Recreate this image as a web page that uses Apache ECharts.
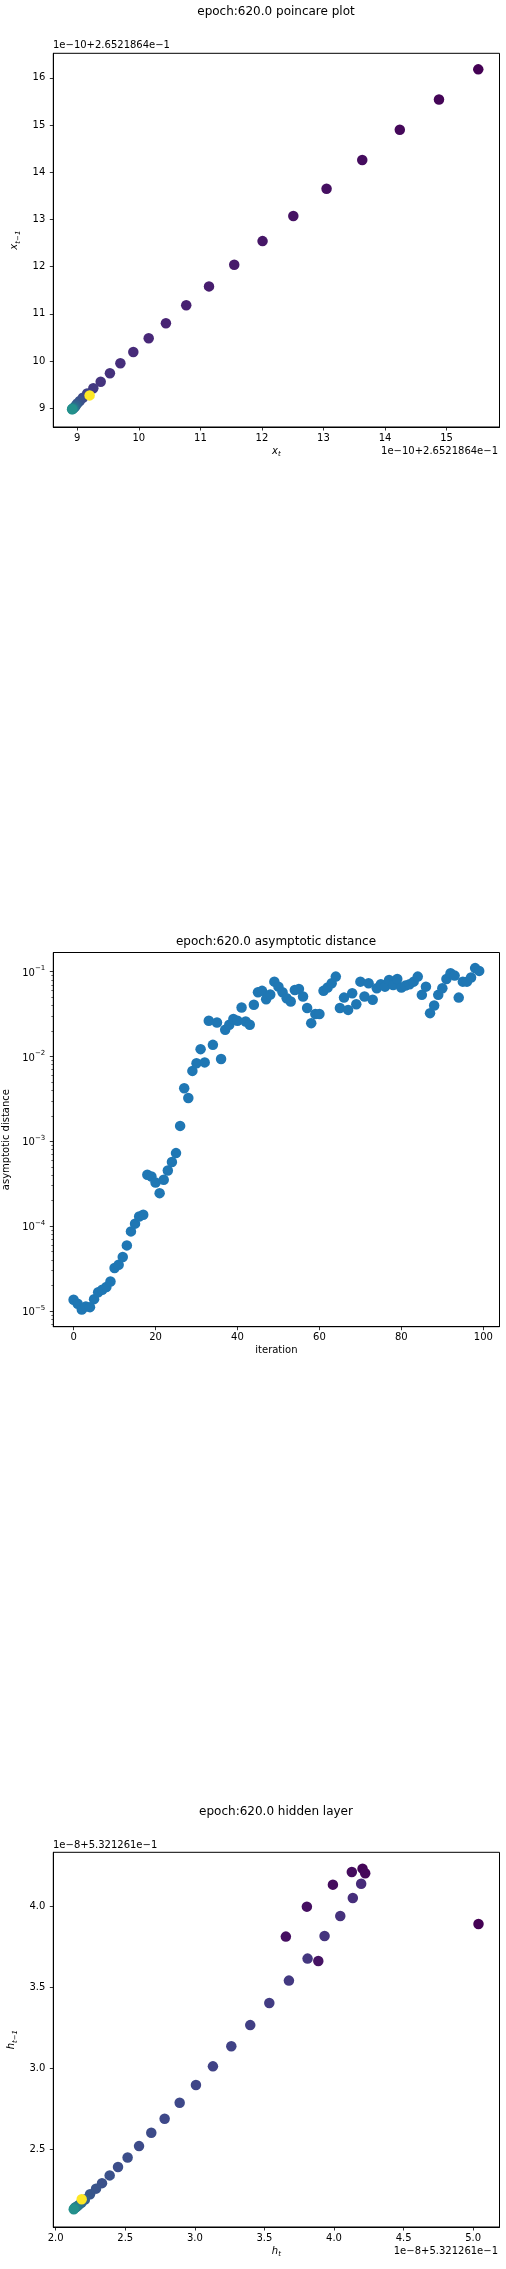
<!DOCTYPE html>
<html>
<head>
<meta charset="utf-8">
<script src="https://cdn.jsdelivr.net/npm/echarts@6/dist/echarts.min.js"></script>
<style>
  html, body { margin: 0; padding: 0; background: #fff; }
  #main { width: 506px; height: 2269px; }
</style>
</head>
<body>
<div id="main"></div>
<script>
// poincare plot, x_t / x_{t-1} in units of 1e-10 above 2.6521864e-1
var poincareX = [15.515, 14.877, 14.24, 13.63, 13.05, 12.51, 12.01, 11.55, 11.14, 10.77,
  10.44, 10.16, 9.91, 9.70, 9.53, 9.38, 9.26, 9.16, 9.09, 9.04, 9.00, 8.98, 8.96, 8.945,
  8.935, 8.925, 8.92, 8.915, 9.20];
var poincareY = [16.18, 15.54, 14.90, 14.26, 13.65, 13.07, 12.54, 12.04, 11.58, 11.18,
  10.80, 10.48, 10.19, 9.95, 9.74, 9.56, 9.42, 9.31, 9.22, 9.15, 9.10, 9.06, 9.03, 9.01,
  8.995, 8.985, 8.98, 8.975, 9.27];
// colour position on viridis (0 = dark purple, 1 = yellow)
var poincareShade = [0, 0.01, 0.02, 0.03, 0.04, 0.05, 0.06, 0.07, 0.08, 0.09,
  0.10, 0.11, 0.12, 0.13, 0.14, 0.15, 0.17, 0.2, 0.22, 0.25, 0.27, 0.3, 0.33, 0.36,
  0.4, 0.43, 0.46, 0.5, 1];
var poincareXTicks = [9, 10, 11, 12, 13, 14, 15];
var poincareYTicks = [9, 10, 11, 12, 13, 14, 15, 16];

// asymptotic distance per iteration (0..99)
var distance = [1.36e-5, 1.22e-5, 1.04e-5, 1.13e-5, 1.11e-5, 1.38e-5, 1.66e-5, 1.78e-5, 1.92e-5, 2.23e-5,
  3.21e-5, 3.51e-5, 4.33e-5, 5.93e-5, 8.67e-5, 1.07e-4, 1.30e-4, 1.36e-4, 4.03e-4, 3.85e-4,
  3.27e-4, 2.45e-4, 3.52e-4, 4.53e-4, 5.69e-4, 7.26e-4, 1.52e-3, 4.23e-3, 3.24e-3, 6.76e-3,
  8.32e-3, 1.22e-2, 8.51e-3, 2.63e-2, 1.37e-2, 2.51e-2, 9.33e-3, 2.06e-2, 2.36e-2, 2.77e-2,
  2.63e-2, 3.77e-2, 2.58e-2, 2.36e-2, 4.07e-2, 5.71e-2, 5.93e-2, 4.73e-2, 5.37e-2, 7.62e-2,
  6.65e-2, 5.71e-2, 4.86e-2, 4.44e-2, 6.08e-2, 6.25e-2, 5.08e-2, 3.72e-2, 2.47e-2, 3.16e-2,
  3.16e-2, 5.93e-2, 6.49e-2, 7.29e-2, 8.73e-2, 3.72e-2, 4.94e-2, 3.54e-2, 5.56e-2, 4.13e-2,
  7.62e-2, 5.08e-2, 7.29e-2, 4.65e-2, 6.37e-2, 7.10e-2, 6.65e-2, 7.98e-2, 6.97e-2, 8.20e-2,
  6.49e-2, 6.84e-2, 7.10e-2, 7.62e-2, 8.73e-2, 5.32e-2, 6.65e-2, 3.24e-2, 3.98e-2, 5.32e-2,
  6.37e-2, 8.20e-2, 9.57e-2, 8.97e-2, 4.94e-2, 7.62e-2, 7.62e-2, 8.51e-2, 1.10e-1, 1.02e-1];
var iterationTicks = [0, 20, 40, 60, 80, 100];
var distanceTicks = [1e-5, 1e-4, 1e-3, 1e-2, 1e-1];
var minorMultipliers = [2, 3, 4, 5, 6, 7, 8, 9];
var minorDecades = [1e-6, 1e-5, 1e-4, 1e-3, 1e-2];

// hidden layer, h_t / h_{t-1} in units of 1e-8 above 5.321261e-1
var hiddenX = [5.038, 4.205, 4.224, 4.128, 3.992, 3.805, 3.654, 3.887,
  4.195, 4.135, 4.045, 3.932, 3.810, 3.676, 3.535, 3.398, 3.262, 3.130, 3.008, 2.891,
  2.783, 2.687, 2.599, 2.517, 2.448, 2.388, 2.333, 2.290, 2.247,
  2.21, 2.185, 2.165, 2.15, 2.14, 2.135, 2.13, 2.187];
var hiddenY = [3.893, 4.235, 4.206, 4.214, 4.136, 4.000, 3.815, 3.664,
  4.142, 4.054, 3.942, 3.819, 3.679, 3.543, 3.405, 3.268, 3.137, 3.013, 2.898, 2.788,
  2.689, 2.603, 2.520, 2.450, 2.391, 2.339, 2.291, 2.257, 2.222,
  2.19, 2.17, 2.155, 2.145, 2.14, 2.135, 2.13, 2.191];
var hiddenShade = [0, 0.01, 0.02, 0.03, 0.03, 0.04, 0.04, 0.05,
  0.12, 0.13, 0.14, 0.15, 0.16, 0.17, 0.18, 0.19, 0.2, 0.2, 0.21, 0.22,
  0.22, 0.23, 0.23, 0.24, 0.24, 0.25, 0.25, 0.26, 0.27,
  0.3, 0.33, 0.37, 0.4, 0.43, 0.46, 0.5, 1];
var hiddenXTicks = [2.0, 2.5, 3.0, 3.5, 4.0, 4.5, 5.0];
var hiddenYTicks = [2.5, 3.0, 3.5, 4.0];

var viridis = ['#440154', '#482878', '#3e4989', '#31688e', '#26828e',
  '#1f9e89', '#35b779', '#6ece58', '#b5de2b', '#fde725'];

var FONT = 'DejaVu Sans';
var BLACK = '#000';

function zip3(a, b, c) {
  return a.map(function (v, i) { return [v, b[i], c[i]]; });
}

var minorTicks = [];
minorDecades.forEach(function (d) {
  minorMultipliers.forEach(function (m) { minorTicks.push(m * d); });
});

// math-style names: italic letter with subscript
var nameRich = {
  i: { fontFamily: FONT, fontStyle: 'italic', fontSize: 10, lineHeight: 12, verticalAlign: 'top', color: BLACK },
  s: { fontFamily: FONT, fontStyle: 'italic', fontSize: 7, lineHeight: 6, verticalAlign: 'bottom', color: BLACK }
};
var powRich = {
  b: { fontFamily: FONT, fontSize: 10, lineHeight: 13, verticalAlign: 'bottom', color: BLACK },
  p: { fontFamily: FONT, fontSize: 7, lineHeight: 6, verticalAlign: 'top', color: BLACK }
};

function valueAxis(grid, min, max, ticks, fmt) {
  return {
    gridIndex: grid,
    type: 'value',
    min: min,
    max: max,
    axisLine: { show: true, onZero: false, lineStyle: { color: BLACK, width: 1 } },
    axisTick: { show: true, customValues: ticks, length: 3.5, lineStyle: { color: BLACK, width: 0.8 } },
    axisLabel: {
      customValues: ticks, margin: 6, fontFamily: FONT, fontSize: 10, color: BLACK,
      formatter: fmt || function (v) { return String(v); }
    },
    splitLine: { show: false }
  };
}

var x0 = valueAxis(0, 8.61, 15.86, poincareXTicks);
x0.name = '{i|x}{s|t}';
x0.nameLocation = 'middle';
x0.nameGap = 19;
x0.nameTextStyle = { rich: nameRich };

var y0 = valueAxis(0, 8.60, 16.52, poincareYTicks);
y0.axisLabel.margin = 8;
y0.name = '{i|x}{s|t−1}';
y0.nameLocation = 'middle';
y0.nameRotate = 90;
y0.nameGap = 26;
y0.nameTextStyle = { rich: nameRich };

var x1 = valueAxis(1, -4.95, 103.95, iterationTicks);
x1.name = 'iteration';
x1.nameLocation = 'middle';
x1.nameGap = 19;
x1.nameTextStyle = { fontFamily: FONT, fontSize: 10, color: BLACK };

var y1 = {
  gridIndex: 1,
  type: 'log',
  logBase: 10,
  min: 6.53e-6,
  max: 0.168,
  axisLine: { show: true, onZero: false, lineStyle: { color: BLACK, width: 1 } },
  axisTick: { show: true, customValues: distanceTicks, length: 3.5, lineStyle: { color: BLACK, width: 0.8 } },
  axisLabel: {
    customValues: distanceTicks, margin: 8, rich: powRich,
    formatter: function (v) {
      var k = Math.round(Math.log10(v));
      return '{b|10}{p|−' + (-k) + '}';
    }
  },
  splitLine: { show: false },
  name: 'asymptotic distance',
  nameLocation: 'middle',
  nameRotate: 90,
  nameGap: 36,
  nameTextStyle: { fontFamily: FONT, fontSize: 10, color: BLACK }
};
// minor log ticks
var y1minor = {
  gridIndex: 1,
  type: 'log',
  logBase: 10,
  position: 'left',
  min: 6.53e-6,
  max: 0.168,
  axisLine: { show: false, onZero: false },
  axisTick: { show: true, customValues: minorTicks, length: 2, lineStyle: { color: BLACK, width: 0.6 } },
  axisLabel: { show: false },
  splitLine: { show: false }
};

var fmt1 = function (v) { return v.toFixed(1); };
var x2 = valueAxis(2, 1.983, 5.189, hiddenXTicks, fmt1);
x2.name = '{i|h}{s|t}';
x2.nameLocation = 'middle';
x2.nameGap = 19;
x2.nameTextStyle = { rich: nameRich };

var y2 = valueAxis(2, 2.02, 4.336, hiddenYTicks, fmt1);
y2.axisLabel.margin = 8;
y2.name = '{i|h}{s|t−1}';
y2.nameLocation = 'middle';
y2.nameRotate = 90;
y2.nameGap = 29;
y2.nameTextStyle = { rich: nameRich };

var gridBase = { show: true, borderColor: BLACK, borderWidth: 1, backgroundColor: '#fff', containLabel: false, outerBoundsMode: 'none' };
function grid(top, h) {
  return Object.assign({}, gridBase, { left: 53.3, top: top, width: 446.2, height: h });
}

function title(text, top) {
  return {
    text: text, left: 276, top: top, textAlign: 'center', padding: 0,
    textStyle: { fontFamily: FONT, fontSize: 12, fontWeight: 'normal', color: BLACK }
  };
}

function offsetText(text, pos) {
  return Object.assign({
    type: 'text',
    style: { text: text, fontFamily: FONT, fontSize: 10, fill: BLACK }
  }, pos);
}

var option = {
  animation: false,
  backgroundColor: '#fff',
  title: [
    title('epoch:620.0 poincare plot', 6),
    title('epoch:620.0 asymptotic distance', 936),
    title('epoch:620.0 hidden layer', 1806)
  ],
  grid: [grid(53.3, 373.7), grid(952.5, 374.2), grid(1852.3, 374.7)],
  xAxis: [x0, x1, x2],
  yAxis: [y0, y1, y1minor, y2],
  visualMap: [{
    type: 'continuous', show: false, seriesIndex: [0, 2], dimension: 2,
    min: 0, max: 1, inRange: { color: viridis }
  }],
  graphic: [
    offsetText('1e−10+2.6521864e−1', { left: 53, top: 40 }),
    offsetText('1e−10+2.6521864e−1', { right: 8, top: 446 }),
    offsetText('1e−8+5.321261e−1', { left: 53, top: 1840 }),
    offsetText('1e−8+5.321261e−1', { right: 8, top: 2246 })
  ],
  series: [{
    type: 'scatter',
    xAxisIndex: 0, yAxisIndex: 0,
    symbolSize: 10.5,
    itemStyle: { opacity: 1 },
    data: zip3(poincareX, poincareY, poincareShade)
  }, {
    type: 'scatter',
    xAxisIndex: 1, yAxisIndex: 1,
    symbolSize: 10.5,
    itemStyle: { color: '#1f77b4', opacity: 1 },
    data: distance.map(function (d, i) { return [i, d]; })
  }, {
    type: 'scatter',
    xAxisIndex: 2, yAxisIndex: 3,
    symbolSize: 10.5,
    itemStyle: { opacity: 1 },
    data: zip3(hiddenX, hiddenY, hiddenShade)
  }]
};

var chart = echarts.init(document.getElementById('main'), null, { renderer: 'canvas' });
chart.setOption(option);
</script>
</body>
</html>
